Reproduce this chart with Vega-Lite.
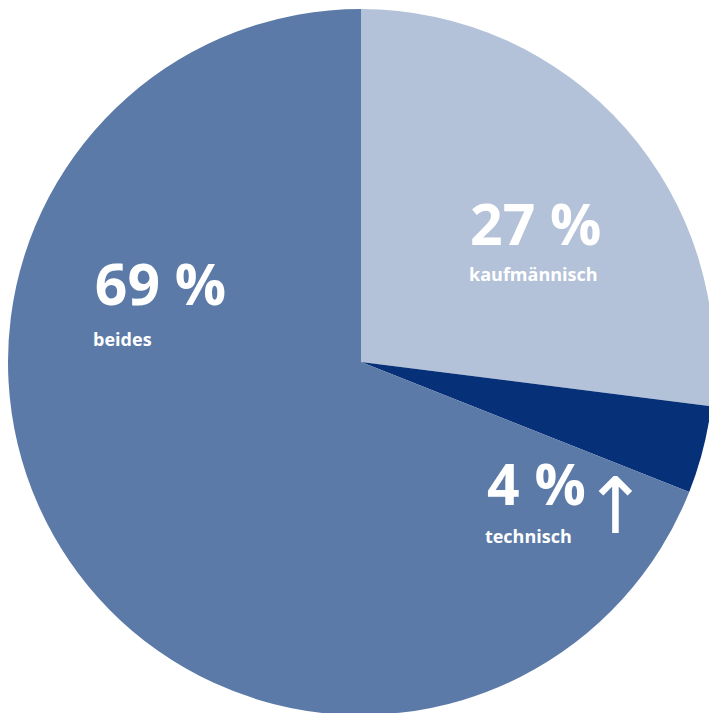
{
  "$schema": "https://vega.github.io/schema/vega-lite/v6.json",
  "width": 722,
  "height": 724,
  "padding": 0,
  "autosize": {"type": "none"},
  "background": "white",
  "config": {"view": {"stroke": null}},
  "datasets": {
    "shares": [
      {"kategorie": "kaufmännisch", "anteil": 27, "reihenfolge": 1},
      {"kategorie": "technisch", "anteil": 4, "reihenfolge": 2},
      {"kategorie": "beides", "anteil": 69, "reihenfolge": 3}
    ],
    "labels": [
      {"art": "wert", "text": "27 %", "lx": 0.309, "ly": 0.331},
      {"art": "name", "text": "kaufmännisch", "lx": 0.306, "ly": 0.229},
      {"art": "wert", "text": "4 %", "lx": 0.357, "ly": -0.405},
      {"art": "name", "text": "technisch", "lx": 0.351, "ly": -0.513},
      {"art": "wert", "text": "69 %", "lx": -0.754, "ly": 0.161},
      {"art": "name", "text": "beides", "lx": -0.759, "ly": 0.045},
      {"art": "pfeil", "text": "↑", "lx": 0.628, "ly": -0.484}
    ]
  },
  "layer": [
    {
      "data": {"name": "shares"},
      "mark": {"type": "arc", "outerRadius": 353, "stroke": null},
      "encoding": {
        "theta": {"field": "anteil", "type": "quantitative", "stack": true},
        "order": {"field": "reihenfolge", "type": "quantitative"},
        "color": {
          "field": "kategorie",
          "type": "nominal",
          "legend": null,
          "scale": {
            "domain": ["kaufmännisch", "technisch", "beides"],
            "range": ["#b3c2d8", "#063078", "#5c7aa8"]
          }
        }
      }
    },
    {
      "data": {"name": "labels"},
      "transform": [{"filter": "datum.art === 'wert'"}],
      "mark": {"type": "text", "align": "left", "baseline": "alphabetic", "font": "Open Sans", "fontWeight": "bold", "fontSize": 57, "color": "white"},
      "encoding": {
        "x": {"field": "lx", "type": "quantitative", "scale": {"domain": [-1.0227, 1.0227]}, "axis": null},
        "y": {"field": "ly", "type": "quantitative", "scale": {"domain": [-1.0255, 1.0255]}, "axis": null},
        "text": {"field": "text"}
      }
    },
    {
      "data": {"name": "labels"},
      "transform": [{"filter": "datum.art === 'name'"}],
      "mark": {"type": "text", "align": "left", "baseline": "alphabetic", "font": "Open Sans", "fontWeight": "bold", "fontSize": 18, "color": "white"},
      "encoding": {
        "x": {"field": "lx", "type": "quantitative", "scale": {"domain": [-1.0227, 1.0227]}, "axis": null},
        "y": {"field": "ly", "type": "quantitative", "scale": {"domain": [-1.0255, 1.0255]}, "axis": null},
        "text": {"field": "text"}
      }
    },
    {
      "data": {"name": "labels"},
      "transform": [{"filter": "datum.art === 'pfeil'"}],
      "mark": {"type": "text", "align": "left", "baseline": "alphabetic", "font": "DejaVu Sans", "fontWeight": "normal", "fontSize": 78, "color": "white"},
      "encoding": {
        "x": {"field": "lx", "type": "quantitative", "scale": {"domain": [-1.0227, 1.0227]}, "axis": null},
        "y": {"field": "ly", "type": "quantitative", "scale": {"domain": [-1.0255, 1.0255]}, "axis": null},
        "text": {"field": "text"}
      }
    }
  ]
}
